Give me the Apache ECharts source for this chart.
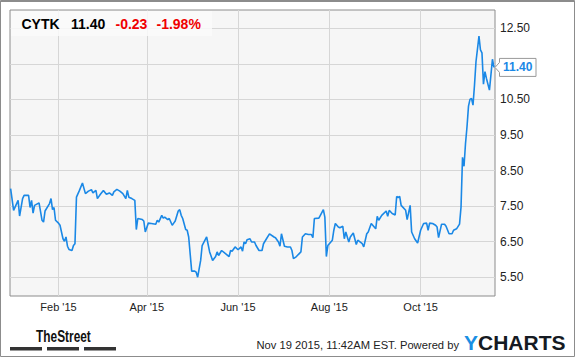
<!DOCTYPE html>
<html>
<head>
<meta charset="utf-8">
<script src="https://cdn.jsdelivr.net/npm/echarts@6/dist/echarts.min.js"></script>
<style>
html,body{margin:0;padding:0;background:#fff;}
#c{width:575px;height:358px;}
</style>
</head>
<body>
<div id="c"></div>
<script>
// ---- data ----
const dates = [
'2014-12-31','2015-01-02','2015-01-05','2015-01-06','2015-01-08','2015-01-09','2015-01-12','2015-01-13','2015-01-14','2015-01-15',
'2015-01-16','2015-01-19','2015-01-21','2015-01-22','2015-01-23','2015-01-26','2015-01-27','2015-01-28','2015-01-29','2015-01-30',
'2015-02-01','2015-02-02','2015-02-04','2015-02-05','2015-02-06','2015-02-07','2015-02-08','2015-02-10','2015-02-11','2015-02-12',
'2015-02-13','2015-02-15','2015-02-17','2015-02-19','2015-02-21','2015-02-23','2015-02-24','2015-02-26','2015-02-27','2015-03-01',
'2015-03-03','2015-03-05','2015-03-07','2015-03-09','2015-03-10','2015-03-12','2015-03-14','2015-03-16','2015-03-18','2015-03-19',
'2015-03-20','2015-03-22','2015-03-24','2015-03-25','2015-03-26','2015-03-29','2015-03-30','2015-03-31','2015-04-02','2015-04-04',
'2015-04-07','2015-04-08','2015-04-09','2015-04-11','2015-04-12','2015-04-13','2015-04-15','2015-04-16','2015-04-18','2015-04-19',
'2015-04-20','2015-04-22','2015-04-23','2015-04-24','2015-04-25','2015-04-27','2015-04-28','2015-04-29','2015-05-01','2015-05-03',
'2015-05-04','2015-05-05','2015-05-07','2015-05-08','2015-05-11','2015-05-13','2015-05-15','2015-05-17','2015-05-18','2015-05-19',
'2015-05-21','2015-05-23','2015-05-26','2015-05-27','2015-05-28','2015-05-30','2015-06-01','2015-06-03','2015-06-04','2015-06-05',
'2015-06-06','2015-06-07','2015-06-09','2015-06-10','2015-06-12','2015-06-13','2015-06-15','2015-06-17','2015-06-18','2015-06-20',
'2015-06-22','2015-06-25','2015-06-26','2015-06-28','2015-06-29','2015-06-30','2015-07-02','2015-07-04','2015-07-06','2015-07-07',
'2015-07-08','2015-07-10','2015-07-13','2015-07-14','2015-07-16','2015-07-18','2015-07-20','2015-07-21','2015-07-22','2015-07-25',
'2015-07-26','2015-07-28','2015-07-29','2015-07-30','2015-07-31','2015-08-03','2015-08-04','2015-08-05','2015-08-07','2015-08-08',
'2015-08-10','2015-08-11','2015-08-12','2015-08-14','2015-08-15','2015-08-17','2015-08-19','2015-08-20','2015-08-23','2015-08-24',
'2015-08-26','2015-08-27','2015-08-29','2015-08-30','2015-09-01','2015-09-02','2015-09-03','2015-09-05','2015-09-08','2015-09-09',
'2015-09-10','2015-09-12','2015-09-14','2015-09-15','2015-09-16','2015-09-17','2015-09-18','2015-09-21','2015-09-22','2015-09-24',
'2015-09-25','2015-09-27','2015-09-29','2015-10-01','2015-10-03','2015-10-05','2015-10-06','2015-10-07','2015-10-09','2015-10-11',
'2015-10-12','2015-10-13','2015-10-15','2015-10-17','2015-10-18','2015-10-20','2015-10-22','2015-10-23','2015-10-25','2015-10-27',
'2015-10-28','2015-10-29','2015-10-30','2015-10-31','2015-11-01','2015-11-02','2015-11-03','2015-11-04','2015-11-05','2015-11-06',
'2015-11-07','2015-11-09','2015-11-10','2015-11-11','2015-11-12','2015-11-13','2015-11-14','2015-11-16','2015-11-18','2015-11-19'
];
const prices = [
7.99,7.38,7.66,7.22,7.71,7.80,7.80,7.46,7.66,7.30,
7.52,7.59,7.10,7.05,7.36,7.57,7.71,7.40,7.46,7.10,
7.02,6.96,6.58,6.51,6.63,6.37,6.28,6.25,6.39,6.44,
7.75,7.94,8.15,7.85,7.92,7.96,7.87,7.94,7.71,7.83,
7.94,7.83,7.87,7.80,7.90,7.97,7.92,7.85,7.71,7.94,
7.75,7.71,7.66,6.84,7.15,7.12,7.08,6.77,7.02,7.01,
6.99,7.10,7.05,7.24,7.16,7.19,7.12,7.15,6.96,7.02,
7.08,7.36,7.40,7.24,7.15,6.84,6.82,6.63,5.67,5.67,
5.64,5.50,5.97,6.39,6.63,6.21,5.97,6.08,6.21,6.11,
6.25,6.18,6.08,6.25,6.23,6.35,6.27,6.35,6.23,6.49,
6.44,6.55,6.58,6.49,6.49,6.39,6.25,6.25,6.44,6.58,
6.72,6.63,6.61,6.49,6.37,6.72,6.37,6.35,6.35,6.25,
6.02,6.08,6.21,6.63,6.72,6.70,6.70,6.61,7.15,7.16,
7.24,7.40,7.19,6.08,6.39,6.54,6.82,7.01,6.91,6.89,
6.93,6.58,6.77,6.49,6.63,6.74,6.42,6.54,6.44,6.35,
6.72,6.77,7.01,6.96,6.86,7.21,7.10,7.24,7.36,7.21,
7.38,7.29,7.25,7.77,7.74,7.77,7.52,7.38,7.12,7.52,
6.77,6.58,6.46,6.82,7.01,7.02,6.82,7.02,7.01,6.96,
6.91,6.61,6.99,6.99,6.93,6.72,6.72,6.82,6.86,6.99,
7.47,8.87,8.62,9.26,9.73,10.31,10.50,10.53,10.34,10.90,
11.56,12.28,11.89,11.81,10.93,11.28,11.09,10.76,11.63,11.40
];
const yGridValues = [5.5, 6.5, 7.5, 8.5, 9.5, 10.5, 11.5, 12.5];
const yLabelValues = [5.5, 6.5, 7.5, 8.5, 9.5, 10.5, 12.5]; // 11.50 sits under the last-price flag
const xTickDates = ['2015-02-01', '2015-04-01', '2015-06-01', '2015-08-01', '2015-10-01'];
const xTickLabels = ["Feb '15", "Apr '15", "Jun '15", "Aug '15", "Oct '15"];
const ticker = 'CYTK';
const lastPrice = '11.40';
const change = '-0.23';
const changePct = '-1.98%';
const footerText = 'Nov 19 2015, 11:42AM EST. Powered by';

// ---- helpers ----
function ts(s) { const p = s.split(/[- :]/).map(Number); return new Date(p[0], p[1] - 1, p[2], p[3] || 0).getTime(); }
const xTickTs = xTickDates.map(d => ts(d));
const labelByTs = {};
xTickTs.forEach((t, i) => { labelByTs[t] = xTickLabels[i]; });

const chart = echarts.init(document.getElementById('c'), null, { renderer: 'svg' });
const FONT = '"Liberation Sans", Arial, sans-serif';
const option = {
  animation: false,
  backgroundColor: '#ffffff',
  grid: { left: 10, top: 10, right: 80, bottom: 62, show: true, backgroundColor: '#f6f6f6', borderColor: '#8c8c8c', borderWidth: 1 },
  xAxis: {
    type: 'value',
    min: ts('2014-12-30 14'),
    max: ts('2015-11-19 17'),
    axisLine: { show: false },
    axisTick: { show: false, customValues: xTickTs },
    axisLabel: { customValues: xTickTs, formatter: v => labelByTs[v] || '', color: '#222', fontSize: 11, fontFamily: FONT, margin: 5 },
    splitLine: { show: true, lineStyle: { color: '#d6d6d6', width: 1 } }
  },
  yAxis: {
    type: 'value',
    position: 'right',
    min: 4.97,
    max: 13.015,
    axisLine: { show: false },
    axisTick: { show: false, customValues: yGridValues },
    axisLabel: { customValues: yLabelValues, formatter: v => v.toFixed(2), color: '#222', fontSize: 12, fontFamily: FONT, margin: 5 },
    splitLine: { show: true, lineStyle: { color: '#d6d6d6', width: 1 } }
  },
  series: [{
    type: 'line',
    data: dates.map((d, i) => [ts(d), prices[i]]),
    showSymbol: false,
    symbol: 'none',
    lineStyle: { color: '#1a88e6', width: 1.6 },
    z: 3
  }]
};
chart.setOption(option);

const lastY = chart.convertToPixel({ yAxisIndex: 0 }, prices[prices.length - 1]);
const gridRight = 575 - 80;
const titleStyle = (t, c) => ({ text: t, fontSize: 14, fontWeight: 'bold', fontFamily: FONT, fill: c, verticalAlign: 'middle' });
chart.setOption({
  graphic: [
    { type: 'rect', shape: { x: 0.5, y: 0.5, width: 574, height: 356 }, style: { fill: 'none', stroke: '#8c8c8c', lineWidth: 1 }, silent: true, z: 100 },
    { type: 'line', shape: { x1: 0, y1: 1.5, x2: 575, y2: 1.5 }, style: { stroke: '#8c8c8c', lineWidth: 1 }, silent: true, z: 100 },
    { type: 'rect', shape: { x: 11, y: 11, width: 201, height: 25 }, style: { fill: 'rgba(250,250,250,0.85)' }, z: 50 },
    { type: 'text', x: 21.5, y: 24, z: 51, style: titleStyle(ticker, '#000') },
    { type: 'text', x: 71, y: 24, z: 51, style: titleStyle(lastPrice, '#000') },
    { type: 'text', x: 115.5, y: 24, z: 51, style: titleStyle(change, '#f00000') },
    { type: 'text', x: 156.5, y: 24, z: 51, style: titleStyle(changePct, '#f00000') },
    { type: 'polygon', z: 60, shape: { points: [[gridRight, lastY], [499.5, lastY - 5], [499.5, lastY - 9], [536, lastY - 9], [536, lastY + 9], [499.5, lastY + 9], [499.5, lastY + 5]] },
      style: { fill: '#ffffff', stroke: '#999999', lineWidth: 1 } },
    { type: 'text', x: 503, y: lastY, z: 61, style: { text: lastPrice, fontSize: 12, fontWeight: 'bold', fontFamily: FONT, fill: '#1a88e6', verticalAlign: 'middle' } },
    { type: 'text', x: 36, y: 336, z: 10, scaleX: 0.7, originX: 0, originY: 0, style: { text: 'TheStreet', fontSize: 17, fontWeight: 'bold', fontFamily: '"Liberation Sans Narrow", "Liberation Sans", Arial, sans-serif', fill: '#111', verticalAlign: 'middle' } },
    { type: 'rect', shape: { x: 10, y: 347, width: 32, height: 3.5 }, style: { fill: '#333' } },
    { type: 'rect', shape: { x: 47, y: 347, width: 32, height: 3.5 }, style: { fill: '#333' } },
    { type: 'rect', shape: { x: 84, y: 347, width: 32, height: 3.5 }, style: { fill: '#333' } },
    { type: 'text', x: 459, y: 345, style: { text: footerText, fontSize: 11.2, fontFamily: FONT, fill: '#222', verticalAlign: 'middle', align: 'right' } },
    { type: 'text', x: 464, y: 342.5, style: {
        text: '{y|Y}{c|CHARTS}', verticalAlign: 'middle',
        rich: {
          y: { fontSize: 21, fontWeight: 'bold', fontFamily: FONT, fill: '#1a8fe3' },
          c: { fontSize: 21, fontWeight: 'bold', fontFamily: FONT, fill: '#151a22' }
        }
    } }
  ]
});
</script>
</body>
</html>
